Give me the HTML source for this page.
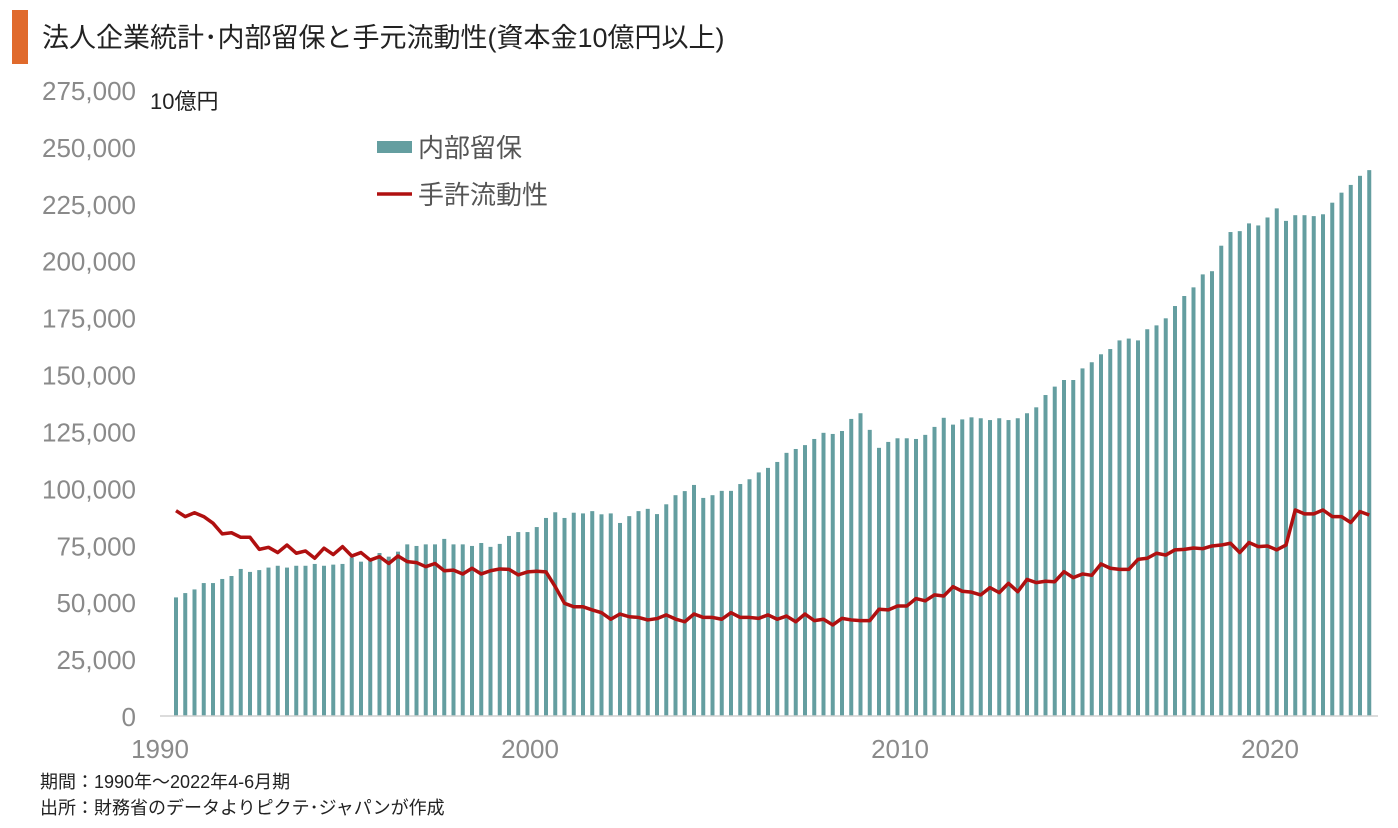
<!DOCTYPE html>
<html><head><meta charset="utf-8">
<style>
html,body{margin:0;padding:0;background:#fff;}
body{width:1398px;height:828px;overflow:hidden;position:relative;font-family:"Liberation Sans","Noto Sans CJK JP",sans-serif;}
.title{position:absolute;left:42px;top:16px;font-size:27px;color:#222;white-space:nowrap;}
.bar{position:absolute;left:12px;top:10px;width:16px;height:54px;background:#e06a2c;}
.note{position:absolute;left:40px;font-size:18px;color:#222;white-space:nowrap;}
</style></head><body>
<div class="bar"></div>
<div class="title">法人企業統計･内部留保と手元流動性(資本金10億円以上)</div>
<svg id="chart" width="1398" height="828" style="position:absolute;left:0;top:0"></svg>
<div class="note" style="top:768px">期間：1990年～2022年4-6月期</div>
<div class="note" style="top:794px">出所：財務省のデータよりピクテ･ジャパンが作成</div>
<script>
const retained=[52.1,54,55.6,58.4,58.4,60.2,61.5,64.6,63.3,64.1,65.2,66,65.2,66,66,66.8,66,66.5,66.8,69.7,67.8,68.8,71.6,70,72.2,75.4,74.7,75.4,75.4,77.8,75.4,75.4,74.7,76,74.3,75.6,79.1,80.8,80.8,83,
87,89.5,87,89.3,89,90,88.6,89,84.8,87.8,90,91,88.7,93,97,98.8,101.5,95.8,97,98.9,98.9,101.9,104,107,109,111.6,115.6,117.3,119,121.7,124.4,123.9,125.2,130.5,133,125.7,117.8,120.4,122,122,121.7,123.5,127,131,128,130.3,131.2,130.8,130,130.8,130,130.8,133,135.6,141,144.7,147.6,147.6,152.7,155.4,158.9,161.2,165,165.8,165,169.9,171.6,174.7,180.1,184.5,188.3,194,195.4,206.6,212.6,213,216.4,215.5,219,223,217.5,220,220,219.6,220.4,225.5,229.9,233.3,237.3,239.8];
const liquidity=[90.2,87.6,89.3,87.6,84.7,80,80.5,78.5,78.5,73.2,74.1,71.8,75.1,71.5,72.5,69.3,73.7,70.9,74.4,70.3,71.8,68.5,70,67,70.3,67.8,67.4,65.6,67,63.8,64.1,62.4,64.9,62.4,63.8,64.6,64.4,62,63.3,63.6,63.3,56.8,49.5,48,48,46.6,45.4,42.5,44.8,43.6,43.3,42.2,42.8,44.4,42.6,41.4,44.8,43.3,43.3,42.5,45.4,43.3,43.3,42.9,44.4,42.5,43.9,41.4,44.8,41.9,42.5,40,42.9,42.2,41.9,41.9,46.9,46.6,48.3,48.3,51.6,50.6,53.2,52.7,56.8,54.8,54.4,53.2,56.4,54.2,58.3,54.6,60,58.6,59.2,59,63.4,60.8,62.4,61.8,66.8,64.9,64.4,64.4,68.8,69.3,71.5,70.7,73,73.2,73.8,73.5,74.7,75.1,75.9,71.8,76.2,74.4,74.7,73,75.1,90.5,88.8,88.8,90.5,87.6,87.6,85,89.8,88.3];
const yTicks=[0,25000,50000,75000,100000,125000,150000,175000,200000,225000,250000,275000];
const xTicks=[1990,2000,2010,2020];
const NS="http://www.w3.org/2000/svg";
const svg=document.getElementById('chart');
const y=v=>716-v/275000*626;
const xi=i=>176+i*9.25;
const xYear=yr=>160+(yr-1990)*37;
function mk(t,a){const e=document.createElementNS(NS,t);for(const k in a)e.setAttribute(k,a[k]);svg.appendChild(e);return e;}
yTicks.forEach(v=>{const t=mk('text',{x:136,y:y(v)+10,'text-anchor':'end','font-size':26,fill:'#8a8a8a'});t.textContent=v.toLocaleString('en-US');

});
xTicks.forEach(v=>{const t=mk('text',{x:xYear(v),y:758,'text-anchor':'middle','font-size':26,fill:'#8a8a8a'});t.textContent=v;

});
retained.forEach((v,i)=>{const h=v*1000/275000*626;const r=mk('rect',{x:xi(i)-2,y:716-h,width:4,height:h,fill:'#649ea0'});

});
const ax=mk('line',{x1:160,x2:1378,y1:716,y2:716,stroke:'#d0d0d0','stroke-width':1.5});


const pl=mk('polyline',{points:liquidity.map((v,i)=>xi(i)+','+y(v*1000)).join(' '),fill:'none',stroke:'#b01010','stroke-width':3.5,'stroke-linejoin':'round'});


const u=mk('text',{x:150,y:109,'font-size':22,fill:'#222'});u.textContent='10億円';


const lr=mk('rect',{x:377,y:141,width:35,height:12,fill:'#649ea0'});


const lt=mk('text',{x:418,y:157,'font-size':26,fill:'#555'});lt.textContent='内部留保';


const ll=mk('line',{x1:377,x2:412,y1:194,y2:194,stroke:'#b01010','stroke-width':3.5});


const lt2=mk('text',{x:418,y:204,'font-size':26,fill:'#555'});lt2.textContent='手許流動性';


</script>
</body></html>
